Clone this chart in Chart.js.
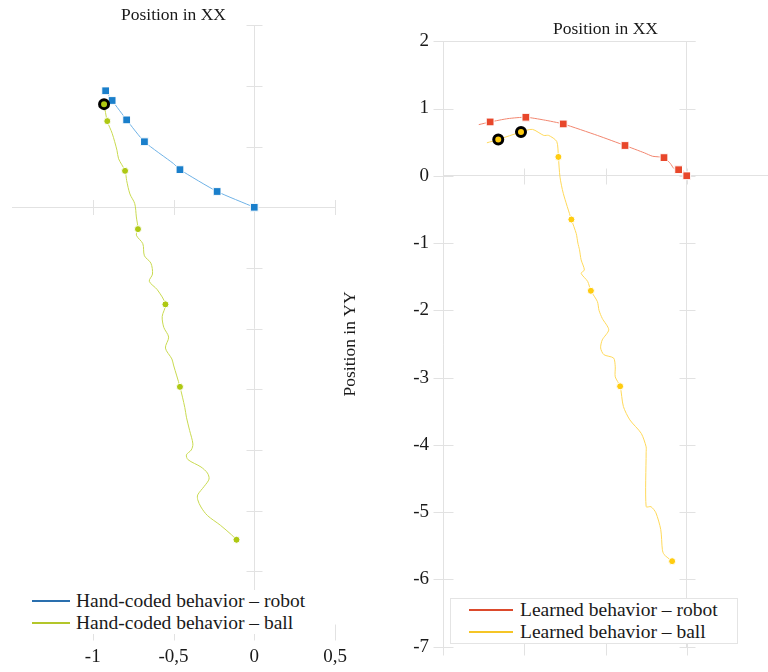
<!DOCTYPE html>
<html lang="en">
<head>
    <meta charset="UTF-8">
    <title>Position in XX / YY - hand-coded vs learned behavior</title>
    <script src="https://cdn.jsdelivr.net/npm/chart.js"></script>
    <style>
        body {
            margin: 0;
            width: 768px;
            height: 672px;
            overflow: hidden;
            position: relative;
            background: #fff;
            font-family: "Liberation Serif", "Times New Roman", serif;
            color: #1a1a1a;
        }
        /* each chart gets its own box, left one shifted so its title centres at x=164 */
        #leftWrap { position: absolute; left: -40px; top: 0; width: 408px; height: 672px; }
        #rightWrap { position: absolute; left: 330px; top: 0; width: 438px; height: 672px; }
        .legend {
            position: absolute;
            background: #fff;
            font-size: 19.5px;
        }
        .legend-item {
            display: flex;
            align-items: center;
            height: 22px;
            white-space: nowrap;
        }
        .legend-line { height: 1.5px; }
        #leftLegend { left: 20px; top: 590px; width: 297px; height: 44px; padding-left: 12px; box-sizing: border-box; }
        #leftLegend .legend-line { width: 38px; margin-right: 6px; }
        #rightLegend { left: 450px; top: 598px; width: 288px; height: 46px; padding-left: 18px; box-sizing: border-box; border: 1px solid #e4e4e4; }
        #rightLegend .legend-line { width: 44px; margin-right: 7px; }
    </style>
</head>
<body>

    <div id="leftWrap"><canvas id="handChart"></canvas></div>
    <div id="rightWrap"><canvas id="learnedChart"></canvas></div>

    <div class="legend" id="leftLegend"></div>
    <div class="legend" id="rightLegend"></div>

    <script>
        // ---- Hand-coded behavior (left panel) ----
        const handRobotX = [-0.92, -0.88, -0.79, -0.68, -0.50, -0.46, -0.23, 0];
        const handRobotY = [0.96, 0.88, 0.72, 0.54, 0.36, 0.31, 0.13, 0];
        const handRobotMarkX = [-0.92, -0.88, -0.79, -0.68, -0.46, -0.23, 0];
        const handRobotMarkY = [0.96, 0.88, 0.72, 0.54, 0.31, 0.13, 0];

        const handBallX = [-0.93, -0.91, -0.88, -0.85, -0.84, -0.80, -0.79, -0.77, -0.74, -0.73, -0.72,
            -0.73, -0.69, -0.68, -0.64, -0.63, -0.65, -0.60, -0.55, -0.57, -0.56, -0.53, -0.55, -0.51,
            -0.50, -0.46, -0.43, -0.42, -0.40, -0.38, -0.39, -0.42, -0.41, -0.33, -0.29, -0.28, -0.31,
            -0.35, -0.35, -0.33, -0.29, -0.21, -0.14, -0.11];
        const handBallY = [0.85, 0.71, 0.61, 0.47, 0.40, 0.30, 0.22, 0.11, 0.03, -0.08, -0.18,
            -0.23, -0.30, -0.40, -0.46, -0.55, -0.61, -0.68, -0.80, -0.90, -0.99, -1.07, -1.16, -1.25,
            -1.30, -1.48, -1.65, -1.73, -1.84, -1.95, -2.00, -2.04, -2.08, -2.14, -2.19, -2.24, -2.30,
            -2.37, -2.41, -2.47, -2.54, -2.62, -2.70, -2.74];
        const handBallMarkX = [-0.91, -0.80, -0.72, -0.55, -0.46, -0.11];
        const handBallMarkY = [0.71, 0.30, -0.18, -0.80, -1.48, -2.74];
        const handRingX = [-0.93];
        const handRingY = [0.85];

        // ---- Learned behavior (right panel) ----
        const learnedRobotX = [-1.28, -1.21, -1.10, -0.99, -0.88, -0.76, -0.55, -0.38, -0.26, -0.21,
            -0.14, -0.10, -0.08, -0.05, -0.02, 0];
        const learnedRobotY = [0.76, 0.80, 0.85, 0.87, 0.83, 0.77, 0.60, 0.45, 0.34, 0.29,
            0.27, 0.18, 0.11, 0.09, 0.07, 0];
        const learnedRobotMarkX = [-1.21, -0.99, -0.76, -0.38, -0.14, -0.05, 0];
        const learnedRobotMarkY = [0.80, 0.87, 0.77, 0.45, 0.27, 0.09, 0];

        const learnedBallX = [-1.23, -1.16, -1.02, -0.95, -0.88, -0.85, -0.80, -0.79, -0.78, -0.76,
            -0.71, -0.68, -0.67, -0.66, -0.65, -0.63, -0.65, -0.61, -0.59, -0.55, -0.54, -0.52, -0.48,
            -0.52, -0.53, -0.51, -0.45, -0.44, -0.44, -0.41, -0.39, -0.35, -0.28, -0.25, -0.25, -0.25,
            -0.22, -0.19, -0.16, -0.15, -0.14, -0.09];
        const learnedBallY = [0.49, 0.54, 0.65, 0.69, 0.60, 0.60, 0.51, 0.28, -0.02, -0.26,
            -0.65, -0.86, -1.00, -1.10, -1.25, -1.40, -1.45, -1.57, -1.71, -1.87, -2.00, -2.12, -2.29,
            -2.44, -2.56, -2.66, -2.71, -2.84, -2.99, -3.13, -3.43, -3.63, -3.83, -4.03, -4.12, -4.92,
            -4.92, -5.01, -5.26, -5.56, -5.63, -5.73];
        const learnedBallMarkX = [-0.79, -0.71, -0.59, -0.41, -0.09];
        const learnedBallMarkY = [0.28, -0.65, -1.71, -3.13, -5.73];
        const learnedRingX = [-1.16, -1.02];
        const learnedRingY = [0.54, 0.65];

        // axis ranges / ticks
        const xRange = [-1.5, 0.5];
        const xStep = 0.5;
        const handYRange = [-3.5, 1.5];
        const handYStep = 0.5;
        const learnedYRange = [-7, 2];
        const learnedYStep = 1;

        const legendLabels = {
            hand: ['Hand-coded behavior – robot', 'Hand-coded behavior – ball'],
            learned: ['Learned behavior – robot', 'Learned behavior – ball']
        };

        // colours
        const gridColor = '#e2e2e2';
        const colors = {
            handRobotLine: '#6fb2e6', handRobotMark: '#1a7fcb', handRobotLegend: '#2a6fae',
            handBallLine: '#c9da50', handBallMark: '#aec812', handBallLegend: '#b3c62a',
            learnedRobotLine: '#f2866f', learnedRobotMark: '#e8472b', learnedRobotLegend: '#dc4a2c',
            learnedBallLine: '#ffd95a', learnedBallMark: '#ffcc10', learnedBallLegend: '#f5c526'
        };

        Chart.defaults.font.family = '"Liberation Serif", "Times New Roman", serif';
        Chart.defaults.color = '#1a1a1a';

        function toPoints(xs, ys) {
            return xs.map((x, i) => ({ x: x, y: ys[i] }));
        }

        function lineSet(xs, ys, color, tension) {
            return {
                data: toPoints(xs, ys),
                showLine: true,
                borderColor: color,
                borderWidth: 1,
                pointRadius: 0,
                tension: tension,
                order: 3
            };
        }

        function markSet(xs, ys, color, style, radius) {
            return {
                data: toPoints(xs, ys),
                showLine: false,
                pointStyle: style,
                pointRadius: radius,
                pointBackgroundColor: color,
                pointBorderColor: '#ffffff',
                pointBorderWidth: 1,
                order: 2
            };
        }

        function ringSet(xs, ys, fill) {
            return {
                data: toPoints(xs, ys),
                showLine: false,
                pointStyle: 'circle',
                pointRadius: 4.5,
                pointBackgroundColor: fill,
                pointBorderColor: '#000000',
                pointBorderWidth: 3,
                order: 1
            };
        }

        function decimalComma(v) {
            return String(v).replace('.', ',');
        }

        // small crossing axes: tick marks along lines placed at data values
        const crossTicks = {
            id: 'crossTicks',
            beforeDatasetsDraw(chart, args, opts) {
                const { ctx, scales: { x, y } } = chart;
                const xs = x.ticks.map(t => t.value);
                const ys = y.ticks.map(t => t.value);
                const px = v => Math.round(x.getPixelForValue(v)) + 0.5;
                const py = v => Math.round(y.getPixelForValue(v)) + 0.5;
                ctx.save();
                ctx.strokeStyle = gridColor;
                ctx.lineWidth = 1;
                ctx.beginPath();
                (opts.vertical || []).forEach(a => {
                    ys.filter(v => !(a.skip || []).includes(v)).forEach(v => {
                        ctx.moveTo(px(a.at) - a.len, py(v));
                        ctx.lineTo(px(a.at) + a.len, py(v));
                    });
                });
                (opts.horizontal || []).forEach(a => {
                    xs.filter(v => !(a.skip || []).includes(v)).forEach(v => {
                        ctx.moveTo(px(v), py(a.at) - a.len);
                        ctx.lineTo(px(v), py(a.at) + a.len);
                    });
                });
                (opts.segments || []).forEach(s => {
                    ctx.moveTo(px(s.from), py(s.at));
                    ctx.lineTo(px(s.to) + (s.extra || 0), py(s.at));
                });
                ctx.stroke();
                ctx.restore();
            }
        };

        // Hand-coded chart
        new Chart(document.getElementById('handChart'), {
            type: 'scatter',
            data: {
                datasets: [
                    ringSet(handRingX, handRingY, colors.handBallMark),
                    markSet(handRobotMarkX, handRobotMarkY, colors.handRobotMark, 'rect', 5.5),
                    markSet(handBallMarkX, handBallMarkY, colors.handBallMark, 'circle', 3.5),
                    lineSet(handRobotX, handRobotY, colors.handRobotLine, 0.2),
                    lineSet(handBallX, handBallY, colors.handBallLine, 0.3)
                ]
            },
            options: {
                responsive: true,
                maintainAspectRatio: false,
                animation: false,
                events: [],
                layout: { autoPadding: false, padding: { left: 52, right: 33, top: 0, bottom: 0 } },
                scales: {
                    x: {
                        type: 'linear',
                        position: 'bottom',
                        min: xRange[0],
                        max: xRange[1],
                        border: { display: false },
                        grid: {
                            drawTicks: false,
                            color: c => (c.tick && c.tick.value === 0 ? gridColor : 'transparent')
                        },
                        ticks: {
                            stepSize: xStep,
                            padding: 14,
                            font: { size: 19 },
                            maxRotation: 0,
                            callback: v => (v === xRange[0] ? '' : decimalComma(v))
                        },
                        afterFit: s => { s.height = 40; }
                    },
                    y: {
                        type: 'linear',
                        min: handYRange[0],
                        max: handYRange[1],
                        border: { display: false },
                        grid: {
                            drawTicks: false,
                            color: c => (c.tick && c.tick.value === 0 ? gridColor : 'transparent')
                        },
                        ticks: { stepSize: handYStep, display: false },
                        afterFit: s => { s.width = 0; }
                    }
                },
                plugins: {
                    legend: { display: false },
                    tooltip: { enabled: false },
                    title: {
                        display: true,
                        text: 'Position in XX',
                        font: { size: 17.5, weight: 'normal', lineHeight: 1.1 },
                        color: '#1a1a1a',
                        padding: { top: 6, bottom: 0 }
                    },
                    crossTicks: {
                        vertical: [{ at: 0, len: 8 }],
                        horizontal: [
                            { at: 0, len: 7.5, skip: [xRange[0]] },
                            { at: handYRange[0], len: 8, skip: [xRange[0]] }
                        ]
                    }
                }
            },
            plugins: [crossTicks]
        });

        // Learned chart
        new Chart(document.getElementById('learnedChart'), {
            type: 'scatter',
            data: {
                datasets: [
                    ringSet(learnedRingX, learnedRingY, colors.learnedBallMark),
                    markSet(learnedRobotMarkX, learnedRobotMarkY, colors.learnedRobotMark, 'rect', 5.5),
                    markSet(learnedBallMarkX, learnedBallMarkY, colors.learnedBallMark, 'circle', 3.5),
                    lineSet(learnedRobotX, learnedRobotY, colors.learnedRobotLine, 0.2),
                    lineSet(learnedBallX, learnedBallY, colors.learnedBallLine, 0.25)
                ]
            },
            options: {
                responsive: true,
                maintainAspectRatio: false,
                animation: false,
                events: [],
                layout: { autoPadding: false, padding: 0 },
                scales: {
                    x: {
                        type: 'linear',
                        position: 'bottom',
                        min: xRange[0],
                        max: xRange[1],
                        border: { display: false },
                        grid: {
                            drawTicks: false,
                            color: c => (c.tick && (c.tick.value === 0 || c.tick.value === xRange[0]) ? gridColor : 'transparent')
                        },
                        ticks: { stepSize: xStep, display: false },
                        afterFit: s => { s.height = 25; }
                    },
                    y: {
                        type: 'linear',
                        min: learnedYRange[0],
                        max: learnedYRange[1],
                        border: { display: false },
                        grid: {
                            drawTicks: false,
                            color: c => (c.tick && c.tick.value === 0 ? gridColor : 'transparent')
                        },
                        ticks: {
                            stepSize: learnedYStep,
                            padding: 14,
                            font: { size: 19 },
                            callback: v => decimalComma(v)
                        },
                        title: {
                            display: true,
                            text: 'Position in YY',
                            font: { size: 17.5 },
                            color: '#1a1a1a',
                            padding: { top: 9.5, bottom: 0 }
                        },
                        afterFit: s => { s.width = 113; }
                    }
                },
                plugins: {
                    legend: { display: false },
                    tooltip: { enabled: false },
                    title: {
                        display: true,
                        fullSize: false,
                        text: 'Position in XX',
                        font: { size: 17.5, weight: 'normal', lineHeight: 1.1 },
                        color: '#1a1a1a',
                        padding: { top: 20, bottom: 2 }
                    },
                    crossTicks: {
                        vertical: [{ at: xRange[0], len: 10 }, { at: 0, len: 8 }],
                        horizontal: [
                            { at: 0, len: 8 },
                            { at: learnedYRange[0], len: 8, skip: [xRange[1]] }
                        ],
                        segments: [{ at: learnedYRange[1], from: xRange[0], to: 0, extra: 8 }]
                    }
                }
            },
            plugins: [crossTicks]
        });

        // HTML legends (placed inside the plot areas like the original)
        function buildLegend(id, labels, lineColors) {
            const box = document.getElementById(id);
            labels.forEach((text, i) => {
                const item = document.createElement('div');
                item.className = 'legend-item';
                const line = document.createElement('div');
                line.className = 'legend-line';
                line.style.backgroundColor = lineColors[i];
                const span = document.createElement('span');
                span.textContent = text;
                item.appendChild(line);
                item.appendChild(span);
                box.appendChild(item);
            });
        }

        buildLegend('leftLegend', legendLabels.hand, [colors.handRobotLegend, colors.handBallLegend]);
        buildLegend('rightLegend', legendLabels.learned, [colors.learnedRobotLegend, colors.learnedBallLegend]);
    </script>

</body>
</html>
